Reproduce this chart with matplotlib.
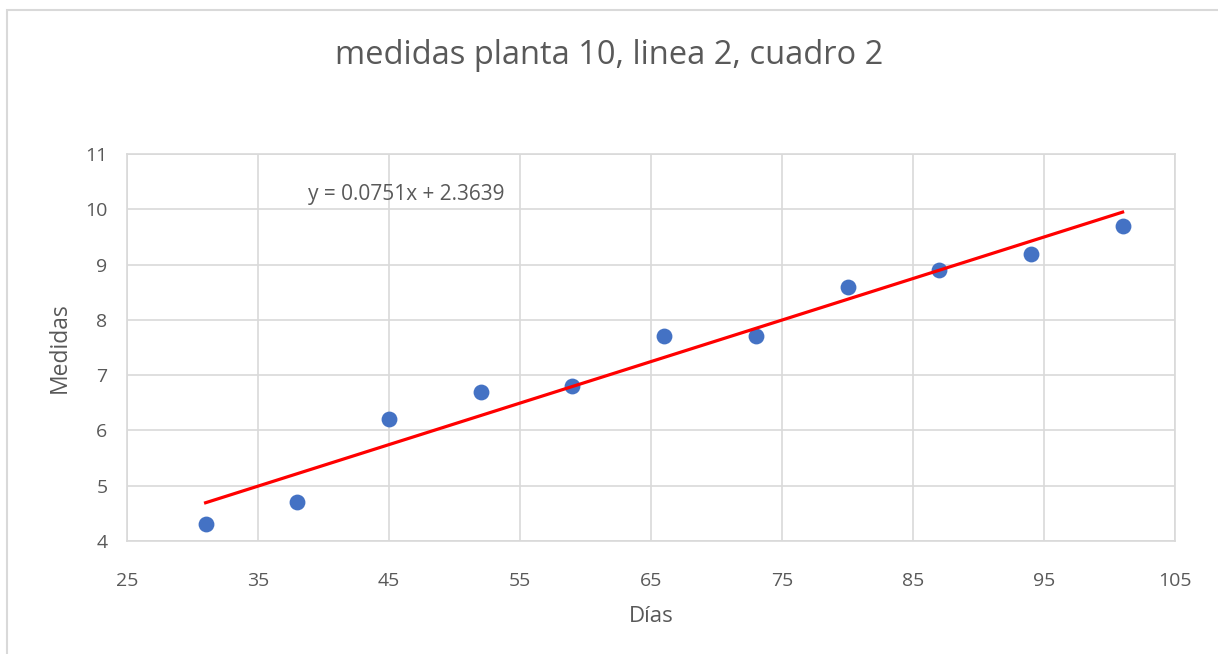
import matplotlib.pyplot as plt
from matplotlib.patches import Rectangle
import numpy as np

dias = [31, 38, 45, 52, 59, 66, 73, 80, 87, 94, 101]
medidas = [4.3, 4.7, 6.2, 6.7, 6.8, 7.7, 7.7, 8.6, 8.9, 9.2, 9.7]
pendiente = 0.0751
intercepto = 2.3639
xticks = [25, 35, 45, 55, 65, 75, 85, 95, 105]
yticks = [4, 5, 6, 7, 8, 9, 10, 11]

plt.rcParams['font.family'] = ['Open Sans', 'DejaVu Sans']
gris = '#595959'

W, H = 1218, 654
fig = plt.figure(figsize=(W / 100, H / 100), dpi=100)
ax = fig.add_axes([127 / W, 1 - 541 / H, (1175 - 127) / W, (541 - 154) / H])

# marco del grafico
fig.patches.append(Rectangle((7 / W, -0.1), 1.2, 1 - 10 / H + 0.1, transform=fig.transFigure,
                             fill=False, edgecolor='#D9D9D9', linewidth=1.5))

ax.scatter(dias, medidas, s=130, color='#4472C4', zorder=3, linewidths=0)
xs = np.array([dias[0], dias[-1]])
ax.plot(xs, pendiente * xs + intercepto, color='#FF0000', linewidth=2.3, zorder=4)

ax.set_xlim(25, 105)
ax.set_ylim(4, 11)
ax.set_xticks(xticks)
ax.set_yticks(yticks)
ax.grid(True, color='#D9D9D9', linewidth=1.2)
ax.set_axisbelow(True)
for s in ax.spines.values():
    s.set_color('#D9D9D9')
    s.set_linewidth(1.2)
ax.tick_params(length=0, labelsize=14, colors=gris)
ax.tick_params(axis='x', pad=22)
ax.tick_params(axis='y', pad=14)

ax.set_xlabel('Días', fontsize=16, color=gris, labelpad=12)
ax.set_ylabel('Medidas', fontsize=16.5, color=gris, labelpad=10)
fig.text(0.5, 1 - 56 / H, 'medidas planta 10, linea 2, cuadro 2', ha='center', va='center',
         fontsize=23.5, color=gris)
ax.text(38.8, 10.26, 'y = 0.0751x + 2.3639', fontsize=15, color=gris, va='center')

fig.savefig('out.png', dpi=100)
